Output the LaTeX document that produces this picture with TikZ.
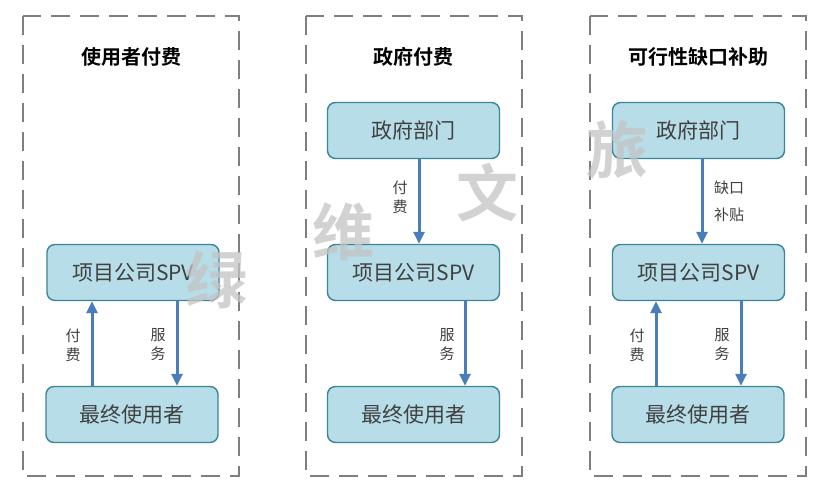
\documentclass[tikz,border=0pt]{standalone}
\usepackage{fontspec}
\usetikzlibrary{arrows.meta}
\newfontfamily\cjk{Noto Sans CJK SC}[BoldFont={Noto Sans CJK SC Bold}]
\newfontfamily\cjkbold{Noto Sans CJK SC Bold}
\definecolor{boxfill}{HTML}{B7DDE8}
\definecolor{boxline}{HTML}{3A8598}
\definecolor{arrowc}{HTML}{4A7EBB}
\definecolor{dashc}{HTML}{7F7F7F}
\definecolor{txt}{HTML}{404040}
\definecolor{wmc}{HTML}{C4C4C4}
\tikzset{
  panel/.style={draw=dashc, line width=2.8pt, dash pattern=on 19pt off 10pt},
  ent/.style={draw=boxline, fill=boxfill, line width=1.4pt, rounded corners=8pt,
    minimum width=172pt, minimum height=56pt, font=\cjk\fontsize{21}{23}\selectfont, text=txt, inner sep=0pt},
  ttl/.style={font=\cjk\bfseries\fontsize{20}{22}\selectfont, text=black},
  flow/.style={draw=arrowc, line width=3pt, -{Triangle[width=11pt,length=12pt]}},
  lbl/.style={font=\cjk\fontsize{15}{19}\selectfont, text=txt, align=center, inner sep=0pt},
  wm/.style={font=\cjkbold\fontsize{62}{64}\selectfont, text=wmc, opacity=0.75}
}
\begin{document}
\begin{tikzpicture}[x=1pt,y=-1pt]
\useasboundingbox[fill=white] (0,0) rectangle (828,500);
% panels
\draw[panel] (23,16) rectangle (239,476);
\draw[panel] (306,16) rectangle (522,476);
\draw[panel] (590,16) rectangle (806,476);
% titles
\node[ttl] (t1) at (131,57) {使用者付费};
\node[ttl] (t2) at (413,57) {政府付费};
\node[ttl] (t3) at (698,57) {可行性缺口补助};
% panel 1
\node[ent] (spv1) at (133,272.5) {项目公司SPV};
\node[ent] (user1) at (132,414.5) {最终使用者};
\draw[flow] (user1.north -| 92,0) -- (spv1.south -| 92,0);
\draw[flow] (spv1.south -| 177,0) -- (user1.north -| 177,0);
\node[lbl] (l1a) at (73,345) {付\\费};
\node[lbl] (l1b) at (158,345) {服\\务};
% panel 2
\node[ent] (gov2) at (413.5,130.5) {政府部门};
\node[ent] (spv2) at (413.5,272.5) {项目公司SPV};
\node[ent] (user2) at (413.5,414.5) {最终使用者};
\draw[flow] (gov2.south -| 419,0) -- (spv2.north -| 419,0);
\draw[flow] (spv2.south -| 465,0) -- (user2.north -| 465,0);
\node[lbl] (l2a) at (400,197) {付\\费};
\node[lbl] (l2b) at (447,345) {服\\务};
% panel 3
\node[ent] (gov3) at (698.5,130.5) {政府部门};
\node[ent] (spv3) at (698.5,272.5) {项目公司SPV};
\node[ent] (user3) at (698,414.5) {最终使用者};
\draw[flow] (gov3.south -| 702,0) -- (spv3.north -| 702,0);
\draw[flow] (user3.north -| 656,0) -- (spv3.south -| 656,0);
\draw[flow] (spv3.south -| 741,0) -- (user3.north -| 741,0);
\node[lbl, align=left, font=\cjk\fontsize{15}{27}\selectfont] (l3a) at (729,201) {缺口\\补贴};
\node[lbl] (l3b) at (637,345) {付\\费};
\node[lbl] (l3c) at (722,345) {服\\务};
% watermark
\node[wm] (w1) at (216,280) {绿};
\node[wm] (w2) at (343,232) {维};
\node[wm] (w3) at (487,193) {文};
\node[wm] (w4) at (617,150) {旅};
\end{tikzpicture}
\end{document}
